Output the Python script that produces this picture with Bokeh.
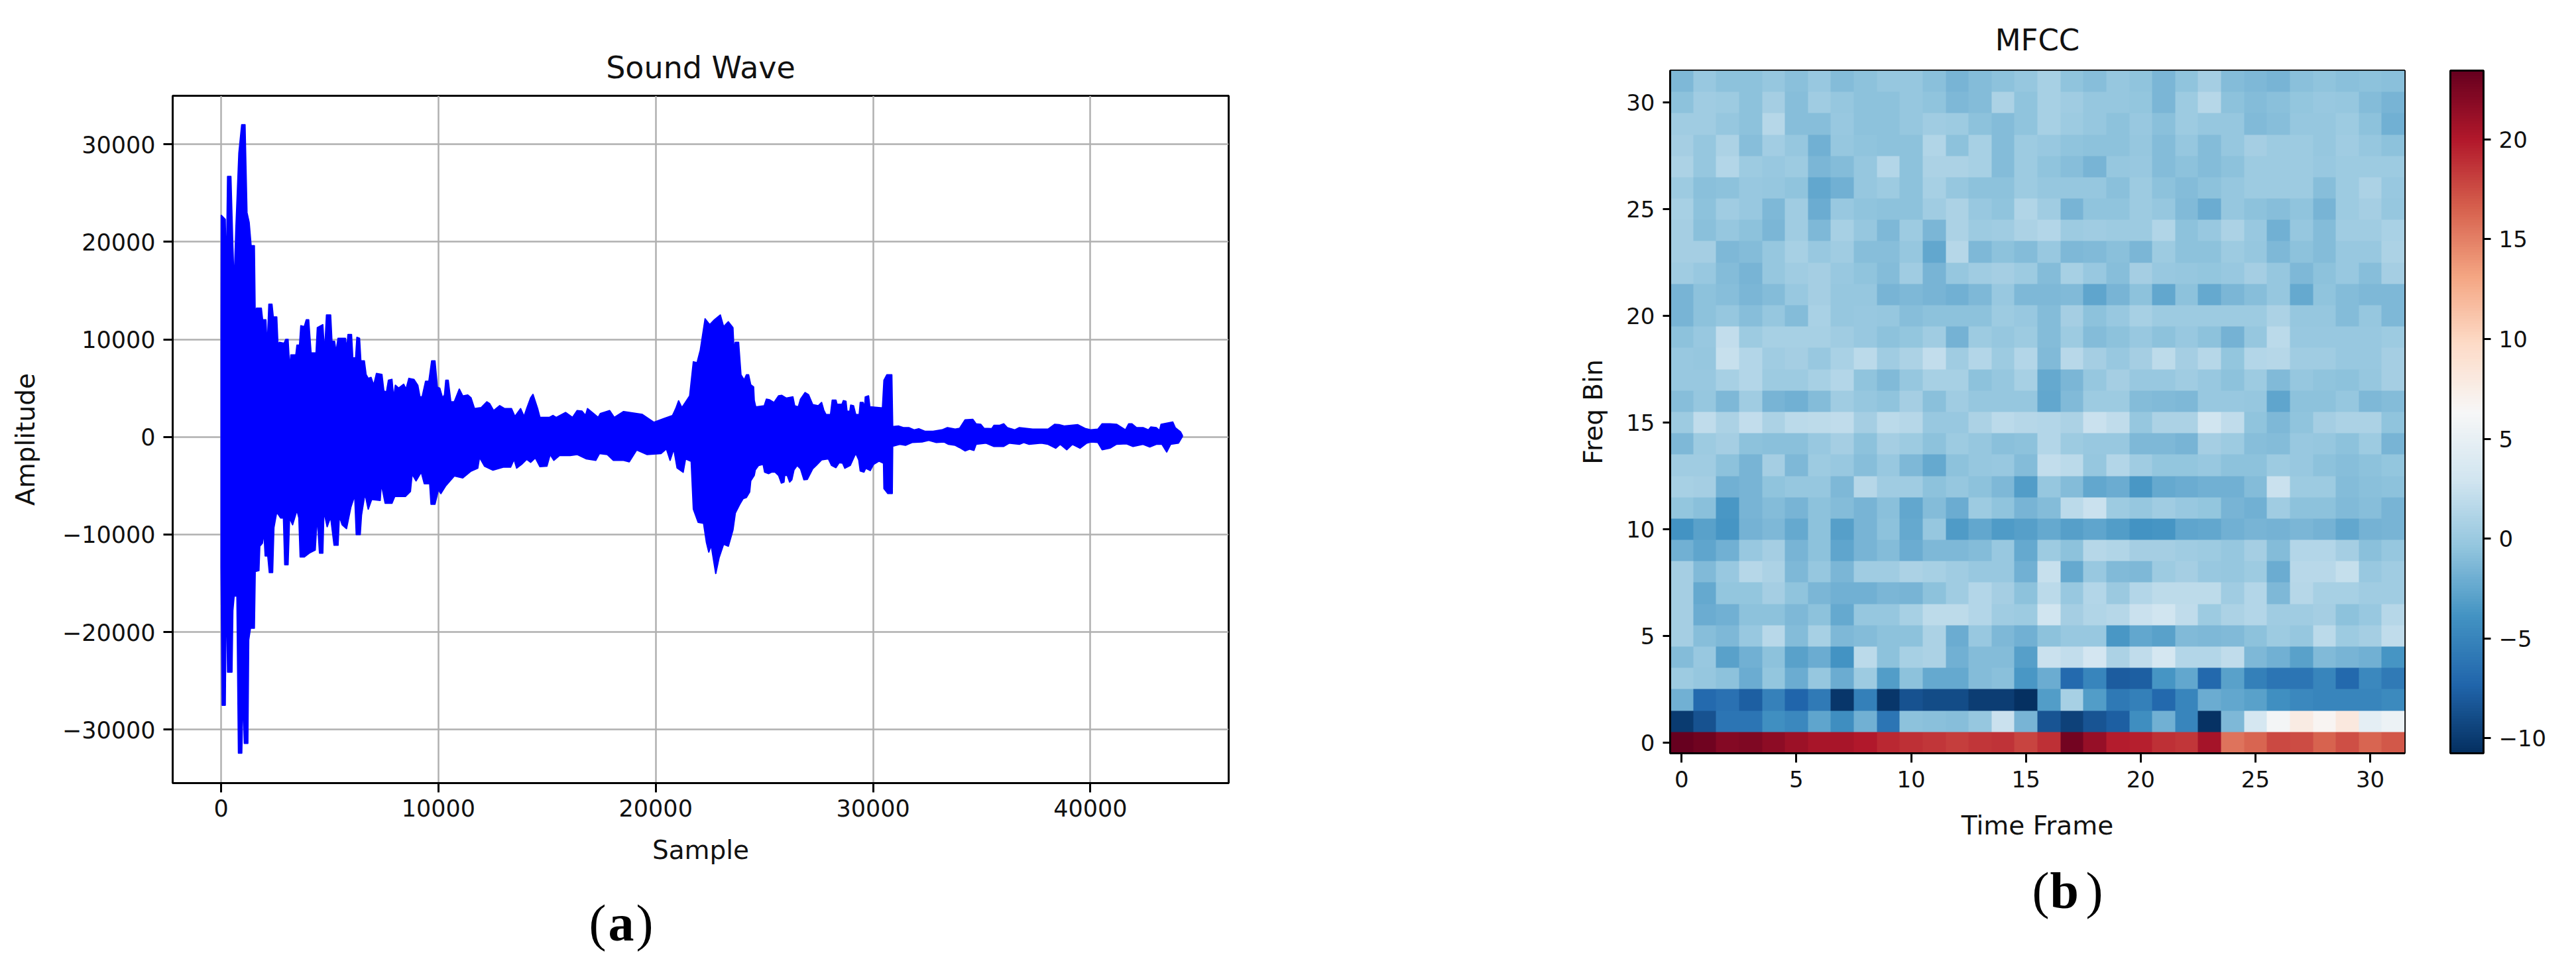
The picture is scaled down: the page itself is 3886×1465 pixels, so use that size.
from bokeh.plotting import figure
from bokeh.layouts import row, column
from bokeh.models import Range1d, FixedTicker, LinearColorMapper, ColorBar, Label
from bokeh.embed import file_html
from bokeh.resources import INLINE
import numpy as np

wave_x_ticks = [0, 10000, 20000, 30000, 40000]
wave_y_ticks = [-30000, -20000, -10000, 0, 10000, 20000, 30000]
mfcc_ticks = [0, 5, 10, 15, 20, 25, 30]
bar_ticks = [-10, -5, 0, 5, 10, 15, 20]

wave_upper_x = [0,10,190,240,300,450,530,600,680,760,820,950,1100,1190,1290,1380,1530,1570,1630,1850,1910,2060,2120,2200,2340,2400,2560,2620,2680,2900,2980,3080,3160,3210,3440,3490,3610,3670,3830,3920,4030,4090,4140,4370,4430,4680,4760,4850,5040,5100,5220,5290,5380,5720,5780,5840,6000,6060,6190,6250,6370,6430,6590,6670,6770,6900,7020,7150,7400,7490,7610,7700,7860,7940,8020,8170,8400,8510,8640,8870,9050,9150,9250,9410,9560,9690,9840,9950,10060,10190,10280,10340,10450,10570,10730,10800,10960,11120,11350,11500,11660,11970,12230,12360,12540,12820,13050,13360,13520,13780,13940,14060,
    14243,14350,14565,14670,15100,15270,15420,15850,16170,16380,16600,16770,16860,17130,17350,17450,17880,18090,18520,19380,19910,20340,20770,20920,21050,21200,21350,21560,21730,21900,22050,22270,22480,22700,22970,23120,23340,23550,23600,23660,23810,
    23920,24070,24170,24270,24370,24500,24530,24600,24990,25090,25240,25440,25650,25800,26000,26310,26390,26560,26660,26870,27030,27220,27480,27630,27730,27830,28040,28120,28290,28340,28570,28630,28750,28800,28930,28970,29100,29200,29360,29410,29540,29610,29640,29790,29850,30430,30500,30630,30860,30900,
    30950,31180,31390,31640,31890,32100,32400,32760,33170,33420,33780,33980,34230,34590,34740,34950,35100,35460,35560,35810,36010,36170,36520,36730,37340,37740,38050,38350,38560,38810,39420,39780,40030,40340,40540,40900,41200,41610,41760,41910,42120,42420,42670,42780,43030,43180,43250,43790,43900,44150,44230]
wave_upper_y = [9000,22700,22300,16100,26700,26700,20300,15400,21300,25700,29100,32000,32000,23000,22000,19600,19600,12000,13200,13200,12000,12000,9100,13600,13600,12300,12300,9200,9700,9600,10000,10000,6900,8400,8400,9400,9400,11400,11300,12000,12000,10100,8600,8600,11200,11500,8600,12500,12500,9800,9800,8700,10100,10100,9000,10500,10500,8100,8100,10200,10100,7800,7800,6400,6000,6100,5300,6500,6400,4700,4600,5800,5900,4000,5300,5000,5400,4900,6000,5900,5300,4100,4100,5700,5700,7800,7800,5100,5000,4000,4300,5800,5800,3600,3600,4000,4900,4200,4300,4000,2900,3000,3600,3400,2700,3200,2900,2900,2100,2900,2100,2900,
    4000,4350,2900,2000,2000,2200,2000,2500,2000,2700,2650,2200,2900,2400,2000,2400,2700,2000,2600,2300,1500,1850,2200,2900,3700,3000,3500,4200,7700,7600,8900,12100,11500,12000,12500,11300,11800,11200,8800,9700,9700,
    6360,5840,6360,6360,5340,5120,3760,3080,3190,3870,3800,3530,4210,4260,3980,4100,3190,3080,3870,4550,4320,3310,3190,3530,2740,2290,2290,3760,3760,3350,3350,3710,3650,2630,2630,3260,3190,2290,2290,3530,3530,2970,4100,4210,3080,2970,5800,6360,6360,1090,
    1060,1110,950,950,720,840,570,570,720,950,790,880,1740,1790,1340,1290,880,840,1180,1180,1340,950,720,950,790,790,790,1290,1250,1110,1250,840,720,790,1340,1340,1290,720,1340,1340,950,950,720,1020,950,660,1290,1520,950,500,160]

wave_lower_x = [0,50,190,240,300,500,540,600,730,800,950,1010,1070,1230,1270,1350,1530,1570,1740,1780,1900,1970,2030,2150,2220,2370,2430,2560,2740,2870,2930,3080,3150,3290,3490,3580,3640,3830,4060,4330,4420,4530,4680,4730,4880,5040,5200,5380,5440,5570,5770,5970,6150,6220,6400,6460,6620,6770,6930,7320,7370,7550,7860,7990,8480,8710,8790,8970,9210,9350,9600,9660,9840,10000,10110,10340,10730,11120,11500,11810,11890,12120,12510,12980,13320,13480,13600,13830,14060,
    14243,14460,14670,14990,15140,15310,15570,16060,16380,16810,17240,17410,17770,18050,18520,18780,19120,19590,20240,20490,20660,20830,20980,21260,21370,21630,21730,21950,22200,22330,22440,22550,22760,22910,23120,23340,23550,23660,
    23870,24020,24170,24320,24370,24530,24580,24730,24940,25010,25190,25340,25490,25650,25780,25900,25930,26050,26160,26260,26360,26510,26660,26820,26970,27220,27380,27630,27940,28090,28290,28440,28600,28700,28950,29200,29340,29410,29580,29660,29870,30020,30270,30480,30500,30680,30880,30900,
    30950,31230,31490,31790,32250,32560,32910,33270,33470,33780,33980,34230,34440,34640,34740,35200,35560,36010,36270,36730,36930,37180,37740,38050,38400,38610,38910,39170,39520,39830,40030,40340,40540,40900,41200,41660,41960,42420,42730,43030,43290,43510,43690,44050,44230]
wave_lower_y = [-13300,-27500,-27500,-14300,-24100,-24100,-17800,-16300,-16300,-32400,-32400,-26100,-31400,-31400,-20800,-19600,-19600,-13800,-13700,-11200,-10900,-9700,-12200,-12200,-13900,-13900,-9300,-7700,-8300,-8300,-13100,-13100,-8300,-9000,-7500,-8300,-12300,-12300,-11900,-11600,-8100,-11900,-11900,-7600,-9200,-8200,-11100,-11100,-8100,-9000,-9400,-7200,-6000,-10000,-10000,-8000,-5800,-7400,-6400,-6500,-4800,-6800,-6800,-6100,-6100,-5600,-3800,-4500,-3600,-4800,-4800,-6900,-6900,-5400,-5800,-5000,-4000,-4200,-3500,-3200,-2100,-3000,-3400,-3100,-3100,-2300,-3200,-2800,-2300,
    -2600,-2150,-3050,-3000,-1800,-2400,-1900,-1900,-1800,-2250,-2400,-1700,-1800,-2400,-2400,-2550,-1340,-1800,-1700,-1230,-2400,-1230,-3170,-3620,-2250,-2500,-7400,-8750,-8850,-10800,-11800,-11100,-14000,-12400,-11000,-11200,-9550,-7800,
    -6880,-6320,-6200,-5640,-4500,-3940,-3370,-2920,-2810,-3600,-3760,-3600,-3600,-3940,-4730,-4620,-3940,-3940,-4620,-4390,-3370,-2920,-3260,-4390,-4350,-3260,-2920,-2350,-2240,-2920,-3150,-2630,-2690,-3210,-2920,-1680,-2350,-3490,-3600,-3210,-3440,-2810,-2470,-2690,-5300,-5800,-5800,-880,
    -930,-750,-860,-570,-520,-340,-570,-520,-750,-860,-1090,-1430,-1250,-1380,-750,-630,-970,-970,-630,-750,-570,-750,-630,-750,-1150,-750,-1310,-750,-1150,-630,-520,-570,-1310,-1150,-750,-700,-970,-750,-1020,-750,-750,-1540,-750,-630,50]

# rows from Freq Bin 0 upward, 32 time frames each
mfcc_rows = [
 [23.4,23,22,22.3,21.7,21,20.5,20.5,20,19.2,18.9,18.6,18.2,18.6,18.7,17.9,18.9,22.8,21.3,19.8,19.7,18.9,18.6,20.6,15.7,16.3,17.6,17.5,16.5,17.4,16.3,17],
 [-9.7,-8.3,-5.9,-5.9,-3.8,-4.4,-2.4,-4,-1.6,-5.8,-.4,-.5,-.6,0,2.8,-1.3,-8.1,-9.3,-8.1,-7.5,-4,-1.6,-4.6,-10.2,-1,3.6,6.3,8,7,8.5,5,5.6],
 [-1.6,-6.7,-6.1,-7.5,-4.9,-7,-5.4,-10,-5,-10,-8.2,-8.6,-8.6,-9.6,-9.6,-10.8,-2.9,1,-2.9,-5.6,-5,-6.8,-4.6,-1.8,-2.3,-2.7,-3.9,-4.4,-4.6,-4.6,-4.6,-4.3],
 [.4,.1,-.3,-1.9,-.1,-1.8,.1,-1.9,.5,-2.9,-.4,-2.1,-2.1,-.8,-.5,-3.3,-1.9,-6.6,-4.6,-7.6,-7.5,-3.5,-2.3,-6.8,-2.6,-5,-5.8,-5.8,-4.7,-6.8,-4.4,-5.5],
 [-.8,.2,-2.6,-1.5,-.3,-2.6,-1.8,-3.6,2.1,-.4,1,1.2,-1.6,-.8,-.7,-2.8,2.8,2.4,3.5,1.3,2.3,3.6,1.7,1.7,2.3,-1,-1.5,-2.6,-.9,-1.3,-1.6,-3.4],
 [.8,-.6,-1,.2,1.9,-.7,1,-1,-.8,-.3,-.4,1.2,-1.8,.2,-1,-1.5,-.4,.2,.2,-3.3,-2.3,-2.6,-.9,-1,-.9,-.4,.5,0,2,.5,.9,2.3],
 [.8,-1.8,-1.5,-.4,-.4,-1,-.4,-2.1,0,0,1,2.2,2.2,1.7,.6,.4,3.2,.9,1.5,1.8,2.8,3.2,2.3,.5,1.2,1.7,.6,.6,.9,-.4,.2,1.8],
 [.8,-2.1,-.1,-.1,.9,-.2,-1.2,-1.6,-1.6,-1.2,-1.3,-.3,.6,1.7,.8,-.3,2,.2,1.6,.3,1.6,2.2,2.2,2.2,.6,1.7,-1,1.8,1,1,.6,.6],
 [.8,-.9,.2,1.8,1.2,-1,0,-1.2,.6,.6,1.2,1,.6,.2,.2,-1.5,2.7,-2.1,.2,-.9,-1,.5,.8,.2,.1,.5,-1.8,1.9,1.9,2.6,.2,.6],
 [-1.6,-2.4,-1.5,.2,.9,-1.3,-.4,-2.4,-1.3,-.7,-1.9,-1,-1,-.8,.2,-2.1,.4,-.4,1.8,1.5,.9,.9,.6,.5,.1,.8,-.8,1.7,1.7,.9,-.5,0],
 [-3.6,-2.7,-3.4,-1.4,-1,-2.1,-.4,-2.8,-1.3,-.4,-2.1,.1,-3,-2.3,-3,-2.8,-2.1,-2.8,-2.4,-2.9,-3.6,-3.4,-2.4,-2.3,-1.5,-1.3,-1.4,-1.2,-1.4,-2.3,-1.4,-1.3],
 [-.1,-.5,-3.3,-1.3,-.7,-1.3,-.4,-.8,-1.3,-.5,-2.3,-.8,-1.9,.5,-.2,-1.3,-.8,2,2.8,.4,.1,.6,.2,-.1,-1.3,-1.6,.6,-.4,-.4,-.9,-.6,-1.3],
 [1,.8,-1.6,-1.3,-.2,0,.1,-1,1.8,.6,.6,-.4,.1,-.4,-1,-2.9,0,-.8,-2.3,-1.9,-3.3,-2.1,-1.8,-1.6,-1.5,-.8,2.8,.5,.4,-.8,-.5,-.4],
 [.6,.6,-.3,-1.3,.8,-1,.5,.2,-.6,.2,-1,-2.1,-.3,0,.2,-.8,2.4,2,.1,1.7,.6,-.1,-.1,.2,-.4,-.4,.4,.2,-.4,-.6,-.4,-.1],
 [-1,.5,.8,-.4,-.5,-.5,.2,.8,-.4,.9,.5,-.4,.5,.1,-.5,-.4,1.7,.4,.2,.2,-1,-1,-1.3,.9,.4,-.6,-.8,.2,0,-.3,.4,-1.3],
 [.4,2.3,1.3,2.5,1.2,2,2.2,2.3,.8,2.1,1.8,.2,.2,1.2,2,1.8,1.6,1.3,2.9,2.3,0,1.3,1.3,3.2,2.3,-.2,-1,-.2,.9,1.2,1.2,-.2],
 [-.6,0,-1,.6,-1.3,-1.6,-.8,.6,.1,-.2,.8,-.5,.6,.1,.1,0,-2.2,-.9,.5,.5,-.7,-.9,-1,.2,.2,0,-2.4,-.4,-.4,0,-1,-.8],
 [.2,.2,1,1.7,.5,.5,1,1.7,-.2,-.9,0,1,1,-.3,.1,1,-2.1,-1.2,0,.8,.2,.2,.6,.2,-.3,.5,-.9,.1,-.2,-.4,.1,.9],
 [.2,.1,2.7,1.7,.6,.8,.2,1.1,2.1,.6,1.2,2.4,.6,1.6,.4,1.7,-.9,1.9,.9,.2,.8,2.2,.8,1.8,-.1,1.6,1.8,.6,.6,.2,.2,.9],
 [-.3,.2,2.4,.4,1,1,1,.6,.2,-.4,-.1,.6,-1.4,.4,0,.4,-.7,.5,-.8,-.4,.2,-.3,.2,-.4,-1.4,0,2,.2,.2,.2,.2,.5],
 [-1.3,-.4,0,-.6,.1,-.8,1.1,.1,.2,0,-.6,-.3,-.3,-.3,.4,.2,-.8,.8,-.4,.2,1,.4,.4,.4,.4,.4,1.2,0,0,-.7,0,-1],
 [-1.3,-.4,-.6,-1.2,-.8,.2,.9,0,0,-1.3,-1,-1.3,-1.6,-1,.2,-1,-1,-.9,-2.4,-1.3,-.4,-2.3,-.4,-2.1,-1.1,-.6,0,-2.1,-.2,-.8,-1,-1],
 [.6,.2,-.8,-1.3,0,.6,.8,.2,-.2,-.8,.6,-1.3,.1,.6,.8,.5,-.8,1,.2,-.6,.8,.2,.1,-.1,.2,.9,.1,-1,-.4,.2,-.6,.8],
 [.8,.8,-1,-.8,0,1,.2,.6,-.6,-.6,.1,-2.3,1.8,-1,-.4,-.8,.2,-1,-.9,-.5,-1.1,.5,-.4,-.4,.4,0,-1,-.4,-.8,.2,.2,1.2],
 [.8,-.5,0,-.4,-1.2,.6,-1,1,.1,-1,.5,-1.1,1.2,.4,.6,1.3,1.7,.4,.6,.5,.5,1.5,-.4,.2,1.3,.2,-1.5,0,-.7,.6,.6,1.1],
 [1,-.4,.6,.2,-1,.6,-1.8,.2,-.2,-.4,-.4,.6,1.3,.2,-.2,1.5,.6,-1.3,-.2,-.2,.4,0,-.9,-1.9,0,-.3,-.6,-.2,-1.3,.4,.8,.1],
 [.4,-.5,-.3,.2,0,-.2,-2.3,-1.5,0,.4,-.4,1,0,-.4,-.4,.5,.1,.1,0,-.5,.5,-.3,-.8,-.4,.1,.5,.5,.5,-.6,.5,1.2,.2],
 [1.3,0,1.7,.5,.2,.4,-1.2,-.8,0,1.7,-.4,1.2,1.2,1,-.8,.4,-.2,-.6,-1.3,0,.2,-.7,-.4,-.7,-.4,.5,.5,.5,.2,.5,.5,.5],
 [.8,0,1.3,-.6,.7,0,-1.5,0,-.2,-.4,-.4,1.5,-.3,1,-.8,.5,.2,-.2,-.4,-.4,.1,-.7,0,-.7,.1,.8,.5,.5,0,.6,0,-.4],
 [.6,.6,0,-.4,1.8,-.6,-.6,.2,-.3,-.3,.1,.6,.4,-.4,-.8,-.2,1,.4,.1,-.4,.2,-.5,.4,.1,.1,-.9,-.6,0,0,.5,-.3,-1.6],
 [-.3,.6,.4,-.3,.8,-.6,.6,0,-.4,-.4,0,-.2,-1,-.8,1.3,-.2,1,.6,0,.1,-.1,-1.1,.4,1.8,-.3,-.8,-.5,-.1,.2,.1,-.7,-1.3],
 [-1,.2,-.3,-.4,0,-.5,.2,-.8,-.3,0,.1,-.5,-1.3,-.8,-.4,0,1,-.2,-.6,.1,-.2,-1.1,-.2,.8,-.8,-1,-1.3,-.5,-.2,-.5,-.4,-.5],
]
mfcc_read_offset = -0.3   # correction for the lightness of the blue-range colour reading
bar_low, bar_high = -10.75, 23.45

# matplotlib's RdBu_r anchor colours
RDBU_R = ["#053061","#2166ac","#4393c3","#92c5de","#d1e5f0","#f7f7f7","#fddbc7","#f4a582","#d6604d","#b2182b","#67001f"]

def interp_palette(stops, n=256):
    rgb = np.array([[int(c[i:i+2], 16) for i in (1, 3, 5)] for c in stops], float)
    t = np.linspace(0, len(stops) - 1, n)
    out = [np.interp(t, np.arange(len(stops)), rgb[:, k]) for k in range(3)]
    return ["#%02x%02x%02x" % (int(round(a)), int(round(b)), int(round(c))) for a, b, c in zip(*out)]

TXT = "#111111"
GRID = "#b0b0b0"

def style(p, tick_px, label_px, xout, yout):
    p.frame_align = False
    p.outline_line_color = "black"
    p.outline_line_width = 3
    for ax in (p.xaxis[0], p.yaxis[0]):
        ax.axis_line_color = "black"
        ax.axis_line_width = 3
        ax.major_tick_line_color = "black"
        ax.major_tick_line_width = 3
        ax.minor_tick_line_color = None
        ax.major_tick_in = 0
        ax.major_label_text_font = "DejaVu Sans"
        ax.major_label_text_font_size = tick_px
        ax.major_label_text_color = TXT
        ax.axis_label_text_font = "DejaVu Sans"
        ax.axis_label_text_font_size = label_px
        ax.axis_label_text_font_style = "normal"
        ax.axis_label_text_color = TXT
    p.xaxis[0].major_tick_out = xout
    p.yaxis[0].major_tick_out = yout
    p.title.text_font = "DejaVu Sans"
    p.title.text_font_style = "normal"
    p.title.align = "center"
    p.title.text_color = TXT

# (a) wave
p1 = figure(width=1950, height=1310, output_backend="svg", toolbar_location=None,
            x_range=Range1d(-2227, 46360), y_range=Range1d(-35480, 34965),
            title="Sound Wave", x_axis_label="Sample", y_axis_label="Amplitude",
            min_border_left=260, min_border_right=97, min_border_top=144, min_border_bottom=129)
wave_x = wave_upper_x + wave_lower_x[::-1]
wave_y = wave_upper_y + wave_lower_y[::-1]
p1.patch(wave_x, wave_y, fill_color="#0000ff", line_color="#0000ff", line_width=2, line_join="round")
p1.xaxis[0].ticker = FixedTicker(ticks=wave_x_ticks)
p1.yaxis[0].ticker = FixedTicker(ticks=wave_y_ticks)
p1.xaxis[0].major_label_overrides = {t: str(t).replace("-", "\u2212") for t in wave_x_ticks}
p1.yaxis[0].major_label_overrides = {t: str(t).replace("-", "\u2212") for t in wave_y_ticks}
p1.xgrid.grid_line_color = GRID
p1.ygrid.grid_line_color = GRID
p1.xgrid.grid_line_width = 2.5
p1.ygrid.grid_line_width = 2.5
style(p1, "35px", "39px", 14, 14)
p1.title.text_font_size = "46px"
p1.title.standoff = 32
p1.xaxis[0].axis_label_standoff = 25
p1.yaxis[0].axis_label_standoff = 30
p1.yaxis[0].major_label_standoff = 12
p1.xaxis[0].major_label_standoff = 10

# (b) MFCC
mapper = LinearColorMapper(palette=interp_palette(RDBU_R), low=bar_low, high=bar_high)
p2 = figure(width=1936, height=1280, output_backend="svg", toolbar_location=None,
            x_range=Range1d(-0.5, 31.5), y_range=Range1d(-0.5, 31.5),
            title="MFCC", x_axis_label="Time Frame", y_axis_label="Freq Bin",
            min_border_left=569, min_border_right=259, min_border_top=106, min_border_bottom=144)
mfcc_arr = np.array(mfcc_rows, dtype=float)
p2.image(image=[np.where(mfcc_arr < 10, mfcc_arr + mfcc_read_offset, mfcc_arr)], x=-0.5, y=-0.5, dw=32, dh=32, color_mapper=mapper)
p2.xaxis[0].ticker = FixedTicker(ticks=mfcc_ticks)
p2.yaxis[0].ticker = FixedTicker(ticks=mfcc_ticks)
p2.xgrid.visible = False
p2.ygrid.visible = False
style(p2, "34px", "39px", 14, 11)
p2.title.text_font_size = "45px"
p2.title.standoff = 40
p2.xaxis[0].axis_label_standoff = 32
p2.yaxis[0].axis_label_standoff = 24
p2.yaxis[0].major_label_standoff = 12
p2.xaxis[0].major_label_standoff = 12
cb = ColorBar(color_mapper=mapper, width=50, height=1030, margin=0, padding=0,
              location=(1177, 0),
              ticker=FixedTicker(ticks=bar_ticks),
              major_label_overrides={t: str(t).replace("-", "\u2212") for t in bar_ticks},
              major_label_text_font="DejaVu Sans", major_label_text_font_size="34px",
              major_label_text_color=TXT, major_tick_in=0, major_tick_out=11,
              major_tick_line_color="black", major_tick_line_width=3, minor_tick_line_color=None,
              bar_line_color="black", bar_line_width=3, label_standoff=12)
p2.add_layout(cb)

def mark_strip(width, height, pieces):
    s = figure(width=width, height=height, output_backend="svg", toolbar_location=None,
               x_range=Range1d(0, width), y_range=Range1d(0, height), x_axis_type=None, y_axis_type=None,
               min_border=0, outline_line_color=None)
    s.frame_align = False
    s.grid.visible = False
    for text, x, y, weight in pieces:
        s.add_layout(Label(x=x, y=y, text=text, text_font="Liberation Serif", text_font_size="78px",
                           text_font_style=weight, text_color="black",
                           text_baseline="alphabetic", text_align="left"))
    return s

# sub-figure marks (a), (b) on strips below each plot
strip_a = mark_strip(1950, 150, [("(", 888, 68, "normal"), ("a", 917, 68, "bold"), (")", 959, 68, "normal")])
strip_b = mark_strip(1936, 180, [("(", 1115, 117, "normal"), ("b", 1142, 117, "bold"), (")", 1196, 117, "normal")])

layout = row(column(p1, strip_a, spacing=0), column(p2, strip_b, spacing=0), spacing=0)
open("out.html", "w").write(file_html(layout, INLINE))
